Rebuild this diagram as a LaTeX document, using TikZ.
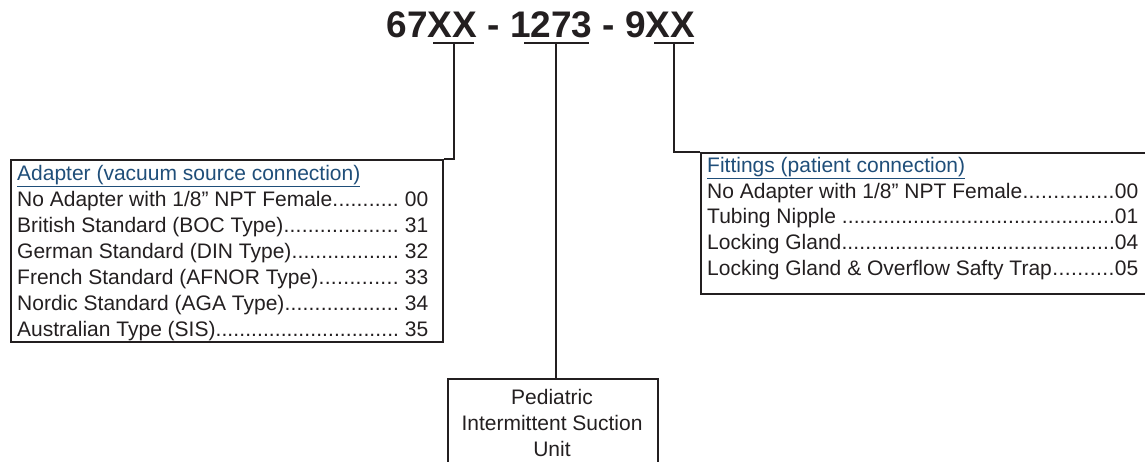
\documentclass[tikz,border=0pt]{standalone}
\usepackage{fontspec}
\setmainfont{Liberation Sans}
\definecolor{ink}{RGB}{35,31,32}
\definecolor{hblue}{RGB}{31,78,121}
\newcommand{\leaderrow}[3]{\hbox to #1{#2\xleaders\hbox{.}\hfill#3}}
\begin{document}
\begin{tikzpicture}[x=1pt,y=-1pt,
  line/.style={draw=ink,line width=2.2pt},
  boxn/.style={draw=ink,line width=2.2pt,rectangle,inner sep=0pt,anchor=north west},
  rowtxt/.style={anchor=base west,inner sep=0pt,text=ink,font=\fontsize{21}{25}\selectfont},
  head/.style={anchor=base west,inner sep=0pt,text=hblue,font=\fontsize{21}{25}\selectfont},
  ctr/.style={anchor=base,inner sep=0pt,text=ink,font=\fontsize{21}{25}\selectfont}]
\useasboundingbox (0,0) rectangle (1145,461);
\clip (0,0) rectangle (1145,461);
% title
\node[anchor=base,inner sep=0pt,text=ink,font=\fontsize{37}{42}\selectfont\bfseries] (title) at (541,37) {67XX - 1273 - 9XX};
\coordinate (ua) at (454,43);
\coordinate (ub) at (556,43);
\coordinate (uc) at (674,43);
\draw[line] (433,43) -- (474,43);
\draw[line] (524,43) -- (589,43);
\draw[line] (654,43) -- (694,43);
% boxes
\node[boxn,minimum width=432pt,minimum height=182pt] (adapter) at (10,159) {};
\node[boxn,minimum width=470pt,minimum height=141pt] (fittings) at (700,152) {};
\node[boxn,minimum width=210pt,minimum height=110pt] (unit) at (447,378) {};
% connectors
\draw[line] (ua) |- (adapter.north east);
\draw[line] (uc) |- (fittings.north west);
\draw[line] (ub) -- (ub |- unit.north);
% left box text
\node[head] (ah) at (17,180.5) {\underline{Adapter (vacuum source connection)}};
\node[rowtxt] (a1) at (17,206.5) {\leaderrow{411pt}{No Adapter with 1/8” NPT Female}{\ 00}};
\node[rowtxt] (a2) at (17,232.4) {\leaderrow{411pt}{British Standard (BOC Type)}{\ 31}};
\node[rowtxt] (a3) at (17,258.3) {\leaderrow{411pt}{German Standard (DIN Type)}{\ 32}};
\node[rowtxt] (a4) at (17,284.2) {\leaderrow{411pt}{French Standard (AFNOR Type)}{\ 33}};
\node[rowtxt] (a5) at (17,310.1) {\leaderrow{411pt}{Nordic Standard (AGA Type)}{\ 34}};
\node[rowtxt] (a6) at (17,336.0) {\leaderrow{411pt}{Australian Type (SIS)}{\ 35}};
% right box text
\node[head] (fh) at (707,172) {\underline{Fittings (patient connection)}};
\node[rowtxt] (f1) at (707,198) {\leaderrow{431pt}{No Adapter with 1/8” NPT Female}{00}};
\node[rowtxt] (f2) at (707,223.9) {\leaderrow{431pt}{Tubing Nipple }{01}};
\node[rowtxt] (f3) at (707,249.8) {\leaderrow{431pt}{Locking Gland}{04}};
\node[rowtxt] (f4) at (707,275.7) {\leaderrow{431pt}{Locking Gland \& Overflow Safty Trap}{05}};
% bottom box text
\node[ctr] (u1) at (552,404) {Pediatric};
\node[ctr] (u2) at (552,430) {Intermittent Suction};
\node[ctr] (u3) at (552,456) {Unit};
\end{tikzpicture}
\end{document}
